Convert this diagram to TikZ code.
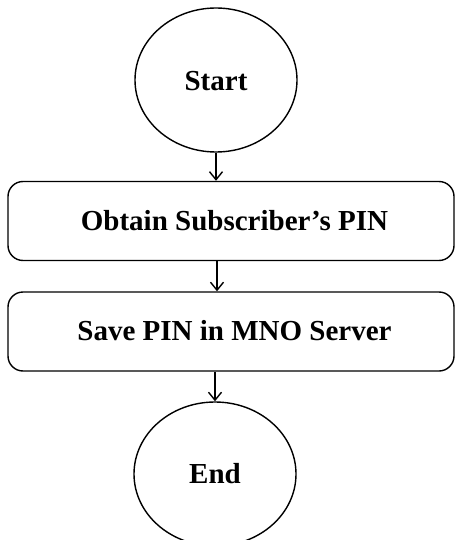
\documentclass[tikz,border=0pt]{standalone}
\usepackage{fontspec}
\setmainfont{Liberation Serif}
\usetikzlibrary{shapes.geometric,arrows.meta}
\begin{document}
\begin{tikzpicture}[x=1pt,y=-1pt,
  terminal/.style={draw, line width=1.4pt, ellipse, minimum width=162pt, minimum height=144pt, inner sep=0pt},
  stepbox/.style={draw, line width=1.4pt, rounded corners=15pt, minimum width=446pt, minimum height=79pt, inner sep=0pt},
  label/.style={font=\bfseries\fontsize{29}{34}\selectfont},
  flow/.style={line width=1.4pt, -{Straight Barb[length=8pt,width=13pt,line width=1.4pt]}}]
  \useasboundingbox (0,0) rectangle (455,540);
  \begin{scope}
    \clip (0,0) rectangle (455,540);
    \node[terminal] (start) at (216,80) {};
    \node[stepbox] (obtain) at (231,221) {};
    \node[stepbox] (save) at (231,331.5) {};
    \node[terminal] (end) at (215,474) {};
  \end{scope}
  \node[label] at (216,81) {Start};
  \node[label] at (234.5,221) {Obtain Subscriber’s PIN};
  \node[label] at (234.5,331) {Save PIN in MNO Server};
  \node[label] at (215,474) {End};
  \coordinate (mid) at (217,0);
  \draw[flow] (start.south) -- (start.south |- obtain.north);
  \draw[flow] (mid |- obtain.south) -- (mid |- save.north);
  \draw[flow] (end.north |- save.south) -- (end.north);
\end{tikzpicture}
\end{document}
